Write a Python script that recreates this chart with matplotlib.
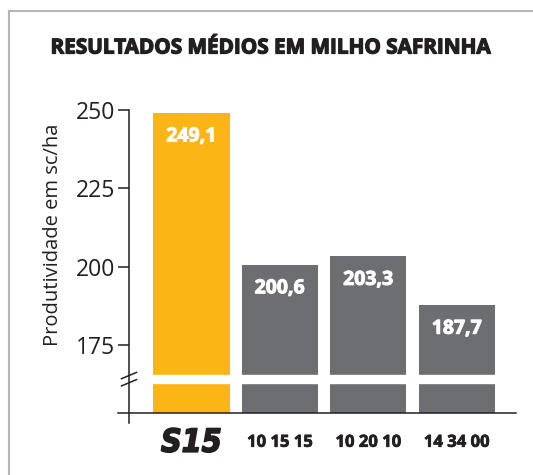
import matplotlib.pyplot as plt
import matplotlib.patheffects as pe
from matplotlib.lines import Line2D
from matplotlib.transforms import blended_transform_factory

# dados
produtos = ["S15", "10 15 15", "10 20 10", "14 34 00"]
produtividade = [249.1, 200.6, 203.3, 187.7]
rotulos = ["249,1", "200,6", "203,3", "187,7"]
yticks = [175, 200, 225, 250]

LARANJA = "#FBB616"
CINZA = "#6D6E71"
PRETO = "#231F20"

plt.rcParams['font.family'] = ['Open Sans', 'DejaVu Sans']

fig = plt.figure(figsize=(5.33, 4.75), dpi=100)
W, H = 533, 475

# area do grafico em pixels (medido na imagem)
x0, x1 = 129, 516
y_top, y_base = 110, 413
ax = fig.add_axes([x0 / W, 1 - y_base / H, (x1 - x0) / W, (y_base - y_top) / H])

px_por_unid = 78.3 / 25
y_min = 250 - (y_base - y_top) / px_por_unid
ax.set_ylim(y_min, 250)
ax.set_xlim(-0.705, 3.67)

cores = [LARANJA] + [CINZA] * 3
xs = range(len(produtos))
ax.bar(xs, [v - y_min for v in produtividade], bottom=y_min, width=0.864,
       color=cores, zorder=1)

# valores dentro das barras
for x, v, r in zip(xs, produtividade, rotulos):
    ax.annotate(r, (x, v), xytext=(0, -17), textcoords='offset points',
                ha='center', va='center', color='white', fontsize=14,
                fontweight='bold',
                path_effects=[pe.withStroke(linewidth=0.7, foreground='white')])

# quebra do eixo (faixa branca)
quebra_sup = 250 - (375 - y_top) / px_por_unid
quebra_inf = 250 - (383 - y_top) / px_por_unid
ax.axhspan(quebra_inf, quebra_sup, color='white', zorder=2)

for s in ax.spines.values():
    s.set_visible(False)

# eixo y e eixo x desenhados a mao
ext_y = 10 / (y_base - y_top)
ext_x = 11 / (x1 - x0)
ax.plot([0, 0], [-ext_y, 1], transform=ax.transAxes, color=PRETO, lw=1.1,
        clip_on=False, zorder=3)
ax.plot([-ext_x, 1], [0, 0], transform=ax.transAxes, color=PRETO, lw=1.1,
        clip_on=False, zorder=3)

# barrinhas da quebra
tr = blended_transform_factory(ax.transAxes, ax.transData)
dx = 7.5 / (x1 - x0)
meio = (quebra_sup + quebra_inf) / 2
for off in (1.1, -1.2):
    ax.plot([-dx, dx], [meio + off - 1.0, meio + off + 1.0], transform=tr,
            color=PRETO, lw=1.1, clip_on=False, zorder=4)

ax.set_yticks(yticks)
ax.set_yticklabels([str(t) for t in yticks], fontsize=16.5, color=PRETO)
ax.tick_params(axis='y', direction='out', length=8, width=1.1, color=PRETO, pad=2)
ax.set_xticks([])

fig.text(53 / W, 1 - 235 / H, "Produtividade em sc/ha", rotation=90,
         ha='center', va='center', fontsize=14.5, color=PRETO)

# rotulos do eixo x
tx = blended_transform_factory(ax.transData, ax.transAxes)
for x, p in zip(xs, produtos):
    if p == "S15":
        ax.text(x, -0.1, p, transform=tx, ha='center', va='center',
                fontsize=23, fontweight='bold', style='italic',
                fontstretch='condensed', family=['DejaVu Sans'], color=PRETO,
                path_effects=[pe.withStroke(linewidth=1.2, foreground=PRETO)])
    else:
        ax.text(x, -0.095, p, transform=tx, ha='center', va='center',
                fontsize=12, fontweight='bold', color=PRETO,
                path_effects=[pe.withStroke(linewidth=0.5, foreground=PRETO)])

fig.text(271 / W, 1 - 48 / H, "RESULTADOS MÉDIOS EM MILHO SAFRINHA",
         ha='center', va='center', fontsize=14.9, fontweight='bold',
         color=PRETO,
         path_effects=[pe.withStroke(linewidth=0.9, foreground=PRETO)])

# moldura cinza (so topo e lado esquerdo aparecem)
fig.add_artist(Line2D([9 / W, 1], [1 - 11 / H, 1 - 11 / H], color='#B5B5B5', lw=1.5))
fig.add_artist(Line2D([9 / W, 9 / W], [0, 1 - 11 / H], color='#B5B5B5', lw=1.5))

fig.savefig('out.png', dpi=100)
